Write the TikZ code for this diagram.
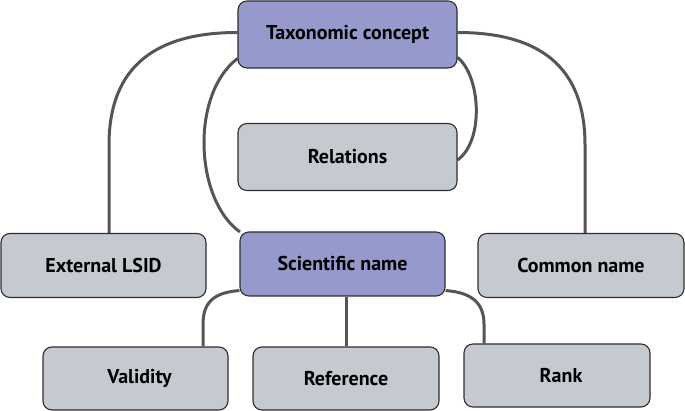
\documentclass[tikz,border=0pt]{standalone}
\usepackage{fontspec}
\setmainfont{PT Sans}
\usetikzlibrary{calc}
\pgfdeclarelayer{bg}
\pgfsetlayers{bg,main}
\definecolor{purp}{HTML}{9599CC}
\definecolor{grayb}{HTML}{C5CAD1}
\definecolor{conn}{HTML}{555555}
\definecolor{edge}{HTML}{2E2E2E}
\tikzset{
  box/.style={draw=edge, line width=1.1pt, rounded corners=9pt, inner sep=0pt,
    font=\fontsize{20}{24}\selectfont\bfseries, text=black},
  purbox/.style={box, fill=purp},
  grabox/.style={box, fill=grayb},
  link/.style={draw=conn, line width=3pt}
}
\begin{document}
\begin{tikzpicture}[x=1pt,y=-1pt]
\useasboundingbox (0,0) rectangle (685,411);
\node[purbox, minimum width=219pt, minimum height=67pt] (tax) at (347.5,34.5) {Taxonomic concept};
\node[grabox, minimum width=219pt, minimum height=67pt] (rel) at (347.5,157) {Relations};
\node[grabox, minimum width=205pt, minimum height=64pt] (ext) at (103.5,265.5) {External LSID};
\node[purbox, minimum width=205pt, minimum height=64pt] (sci) at (342.5,264) {Scientific name};
\node[grabox, minimum width=206pt, minimum height=64pt] (com) at (581,265.5) {Common name};
\node[grabox, minimum width=185pt, minimum height=63pt] (val) at (135.5,378.5) {\hspace*{8pt}Validity};
\node[grabox, minimum width=186pt, minimum height=63pt] (ref) at (346,378.5) {Reference};
\node[grabox, minimum width=186pt, minimum height=63pt] (rank) at (557,375.5) {\hspace*{8pt}Rank};
\begin{pgfonlayer}{bg}
\path[link]
  ($(ext.north)+(5.5,0)$) -- ++(0,-88) .. controls +(0,-80) and +(-80,0) .. ($(tax.west)+(0,-2)$);
\path[link]
  ($(com.north)+(4,0)$) -- ++(0,-88) .. controls +(0,-80) and +(80,0) .. ($(tax.east)+(0,-2)$);
\path[link]
  ($(tax.south west)+(0,-10)$) .. controls (190,95) and (195,200) .. ($(sci.north west)+(0.5,0.5)$);
\path[link]
  ($(tax.south east)+(0,-11)$) .. controls (480,75) and (485,140) .. ($(rel.east)+(0,3)$);
\path[link]
  ($(sci.south west)+(0,-6)$) .. controls +(-28,2) and +(0,-20) .. ($(val.north)+(67.5,-22)$) -- ($(val.north)+(67.5,0)$);
\path[link]
  (ref.north) -- (ref.north |- sci.south);
\path[link]
  ($(sci.south east)+(0,-6)$) .. controls +(28,2) and +(0,-20) .. ($(rank.north)+(-73,-19)$) -- ($(rank.north)+(-73,0)$);
\end{pgfonlayer}
\end{tikzpicture}
\end{document}
